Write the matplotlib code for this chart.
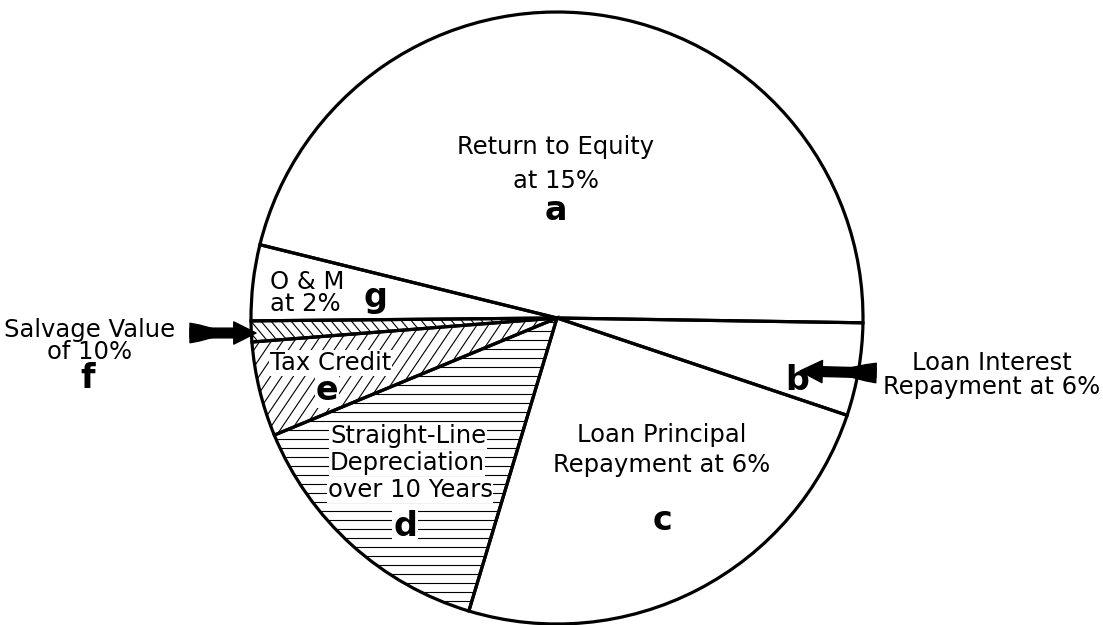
import numpy as np
import matplotlib
matplotlib.use("Agg")
import matplotlib.pyplot as plt
from matplotlib.patches import Wedge
from matplotlib.collections import LineCollection

# slice shares (percent), counter-clockwise starting just below 3 o'clock
letras = ["a", "g", "f", "e", "d", "c", "b"]
partes = [46.4, 4.0, 1.1, 5.0, 14.1, 24.5, 4.9]
tramas = [None, None, ("\\", -50, 7.7), ("/", 56, 9.5), ("-", 0, 9.0), None, None]

W, H = 1103, 625
centro = (557, H - 318)
radio = 306

plt.rcParams["font.family"] = "DejaVu Sans"

fig = plt.figure(figsize=(W / 100, H / 100), dpi=100)
ax = fig.add_axes([0, 0, 1, 1])

cunas, _ = ax.pie(
	partes,
	startangle=-0.9,
	counterclock=True,
	center=centro,
	radius=radio,
	colors=["white"] * len(partes),
	wedgeprops=dict(edgecolor="none", linewidth=0),
	frame=True,
)

def rayar(cuna, angulo, paso):
	# hatch lines clipped to a wedge
	t = np.deg2rad(angulo)
	d = np.array([np.cos(t), np.sin(t)])
	n = np.array([-np.sin(t), np.cos(t)])
	c = np.array(centro)
	segs = []
	for k in np.arange(-radio * 1.1, radio * 1.1, paso):
		p = c + n * k
		segs.append([p - d * radio * 1.2, p + d * radio * 1.2])
	lc = LineCollection(segs, colors="black", linewidths=0.8, zorder=2)
	ax.add_collection(lc)
	lc.set_clip_path(cuna)

for cuna, trama in zip(cunas, tramas):
	cuna.set_zorder(1)
	if trama is not None:
		rayar(cuna, trama[1], trama[2])

# outlines on top of everything
for cuna in cunas:
	borde = Wedge(cuna.center, cuna.r, cuna.theta1, cuna.theta2,
		facecolor="none", edgecolor="black", linewidth=2.3, zorder=5)
	ax.add_patch(borde)

fs = 17.5
fb = 24
blanco = dict(facecolor="white", edgecolor="none", pad=0.5)

def T(x, y, s, **kw):
	ax.text(x, H - y, s, fontsize=kw.pop("fontsize", fs), va="center", zorder=4, **kw)

def L(x, y, s, **kw):
	ax.text(x, H - y, s, fontsize=fb, fontweight="heavy", ha="center",
			va="center", zorder=4, **kw)

# labels
T(556, 164, "Return to Equity\nat 15%", ha="center", linespacing=1.5)
L(556, 211, letras[0])

T(270, 293, "O & M\nat 2%", ha="left", linespacing=0.85)
L(375, 298, letras[1])

T(90, 341, "Salvage Value\nof 10%", ha="center", linespacing=0.85)
L(88, 379, letras[2])

T(270, 363, "Tax Credit", ha="left", bbox=blanco)
L(327, 391, letras[3], bbox=blanco)

T(408, 436, "Straight-Line", ha="center", bbox=blanco)
T(407, 463, "Depreciation", ha="center", bbox=blanco)
T(410, 490, "over 10 Years", ha="center", bbox=blanco)
L(405, 527, letras[4], bbox=blanco)

T(662, 450, "Loan Principal\nRepayment at 6%", ha="center", linespacing=1.3)
L(662, 520, letras[5])

L(797, 380, letras[6])
T(992, 375, "Loan Interest\nRepayment at 6%", ha="center", linespacing=0.95)

# arrows
def flecha(cola, punta):
	x0, y0 = cola
	x1, y1 = punta
	ax.annotate("", xy=(x1, H - y1), xytext=(x0, H - y0),
		arrowprops=dict(arrowstyle="simple,head_length=0.8,head_width=0.8,tail_width=0.35",
			fc="black", ec="black", shrinkA=0, shrinkB=0, mutation_scale=20), zorder=6)
	xm = x0 + (x1 - x0) * 0.55
	ym = y0 + (y1 - y0) * 0.55
	ax.annotate("", xy=(xm, H - ym), xytext=(x0, H - y0),
		arrowprops=dict(arrowstyle="wedge,tail_width=0.7,shrink_factor=0.6",
			fc="black", ec="black", shrinkA=0, shrinkB=0, mutation_scale=20), zorder=6)

flecha((190, 333), (256, 333))
flecha((876, 373), (800, 371))

ax.set_xlim(0, W)
ax.set_ylim(0, H)
ax.set_aspect("equal")
ax.axis("off")

fig.savefig("out.png", dpi=100, facecolor="white")
